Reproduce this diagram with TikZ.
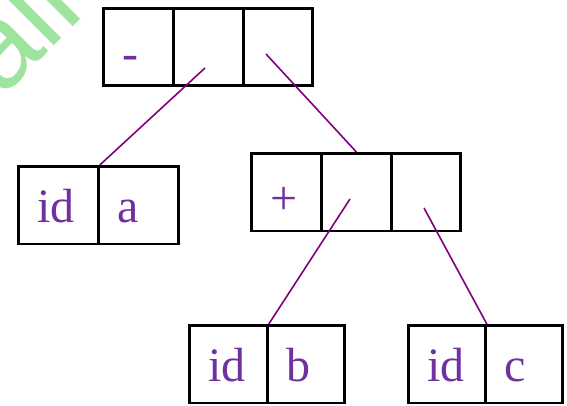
\documentclass[tikz,border=0pt]{standalone}
\usepackage{fontspec}
\setmainfont{Liberation Serif}
\newfontfamily\wmfont{Liberation Sans}
\definecolor{txtpurple}{RGB}{112,48,160}
\definecolor{linepurple}{RGB}{128,0,128}
\definecolor{wmgreen}{RGB}{158,228,158}
\tikzset{
  cell/.style 2 args={draw=black, line width=2.8pt, anchor=north west,
    inner xsep=19pt, inner ysep=0pt, minimum width=#1, text width=#2,
    minimum height=77.5pt, text height=56.5pt, text depth=21pt,
    align=left, text=txtpurple, font=\fontsize{48}{58}\selectfont},
  opcell/.style={text height=61pt, text depth=16.5pt},
  edge/.style={draw=linepurple, line width=1.6pt},
  wm/.style={text=wmgreen, inner sep=0pt, font=\wmfont\fontsize{120}{140}\selectfont}
}
\begin{document}
\begin{tikzpicture}[x=1pt,y=-1pt]
\useasboundingbox (0,0) rectangle (567,406);
\begin{scope}
  \clip (0,0) rectangle (567,406);
  \node[wm, rotate=45, anchor=base west] (wmark) at (1.3,98.7) {all};
\end{scope}
% top record
\node[cell={70pt}{32pt}, opcell] (t1) at (102,7) {-};
\node[cell={70pt}{32pt}] (t2) at (172,7) {};
\node[cell={69pt}{31pt}] (t3) at (242,7) {};
% id a
\node[cell={80pt}{42pt}] (a1) at (17,165) {id};
\node[cell={80pt}{42pt}] (a2) at (97,165) {a};
% plus record
\node[cell={70pt}{32pt}, opcell] (p1) at (250,152) {+};
\node[cell={70pt}{32pt}] (p2) at (320,152) {};
\node[cell={69pt}{31pt}] (p3) at (390,152) {};
% id b
\node[cell={78pt}{40pt}] (b1) at (188,324) {id};
\node[cell={77pt}{39pt}] (b2) at (266,324) {b};
% id c
\node[cell={77pt}{39pt}] (c1) at (407,324) {id};
\node[cell={77pt}{39pt}] (c2) at (484,324) {c};
% connectors
\coordinate (s1) at (205,68);
\coordinate (s2) at (266,54);
\coordinate (s3) at (350,199);
\coordinate (s4) at (424,208);
\draw[edge] (s1) -- (a1.north east);
\draw[edge] (s2) -- (p2.north);
\draw[edge] (s3) -- (b1.north east);
\draw[edge] (s4) -- (c1.north east);
\end{tikzpicture}
\end{document}
